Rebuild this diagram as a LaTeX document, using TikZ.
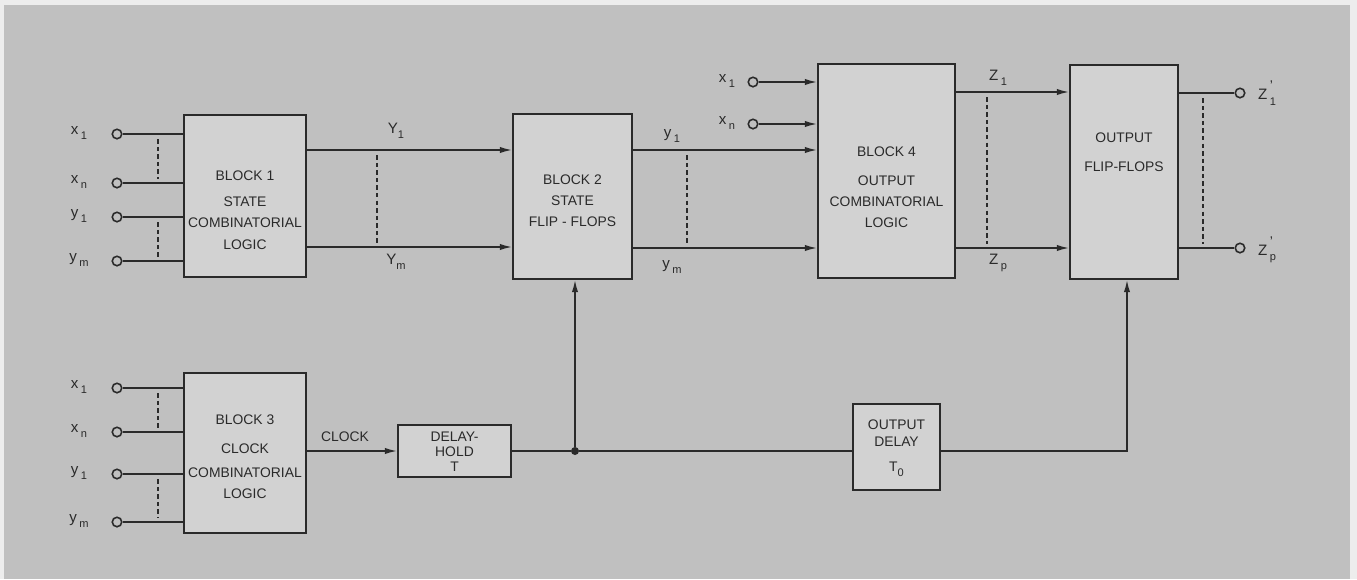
\documentclass[tikz,border=0pt]{standalone}
\usepackage{fontspec}
\setmainfont{Liberation Sans}
\usetikzlibrary{arrows.meta}
\definecolor{bgc}{HTML}{C0C0C0}
\definecolor{edgec}{HTML}{EDEDED}
\definecolor{boxc}{HTML}{D2D2D2}
\definecolor{inkc}{HTML}{2A2A2A}
\newcommand\lsub[1]{\raisebox{-0.7ex}{\fontsize{6.3}{6}\selectfont #1}}
\newcommand\lsubp[1]{\makebox[0pt][l]{\raisebox{1.1ex}{\fontsize{8}{6}\selectfont '}}\lsub{#1}}
\begin{document}
\begin{tikzpicture}[x=0.02cm,y=-0.02cm,
  blk/.style={draw=inkc, line width=1pt, fill=boxc, inner sep=0pt},
  txt/.style={font=\fontsize{7.9}{12}\selectfont, text=inkc, align=center, inner sep=0pt},
  pin/.style={circle, draw=inkc, line width=0.9pt, fill=bgc, minimum size=0.19cm, inner sep=0pt},
  lbl/.style={font=\fontsize{8.6}{9}\selectfont, text=inkc, inner sep=0pt},
  wire/.style={draw=inkc, line width=0.95pt},
  arr/.style={wire, -{Latex[length=7pt,width=3.6pt]}},
  dsh/.style={draw=inkc, line width=0.9pt, dash pattern=on 2.5pt off 1.8pt, shorten <=3pt, shorten >=2pt},
]
\fill[edgec] (0,0) rectangle (1357,579);
\fill[bgc] (4,5) rectangle (1350,579);
\useasboundingbox (0,0) rectangle (1357,579);

% blocks
\node[blk, minimum width=2.44cm, minimum height=3.24cm] (b1) at (245,196) {};
\node[blk, minimum width=2.38cm, minimum height=3.30cm] (b2) at (572.5,196.5) {};
\node[blk, minimum width=2.74cm, minimum height=4.28cm] (b4) at (886.5,171) {};
\node[blk, minimum width=2.16cm, minimum height=4.28cm] (of) at (1124,172) {};
\node[blk, minimum width=2.44cm, minimum height=3.20cm] (b3) at (245,453) {};
\node[blk, minimum width=2.26cm, minimum height=1.04cm] (dh) at (454.5,451) {};
\node[blk, minimum width=1.74cm, minimum height=1.72cm] (od) at (896.5,447) {};

% block texts
\node[txt] (b1t) at (245,210) {BLOCK 1\\[3pt]STATE\\COMBINATORIAL\\LOGIC};
\node[txt] (b2t) at (572.5,201) {BLOCK 2\\STATE\\FLIP - FLOPS};
\node[txt] (b4t) at (886.5,187.5) {BLOCK 4\\[4.5pt]OUTPUT\\COMBINATORIAL\\LOGIC};
\node[txt] (oft) at (1124,152.5) {OUTPUT\\[4.5pt]FLIP-FLOPS};
\node[txt] (b3t) at (245,457) {BLOCK 3\\[4pt]CLOCK\\[2pt]COMBINATORIAL\\LOGIC};
\node[txt, font=\fontsize{7.9}{8.5}\selectfont] (dht) at (454.5,452) {DELAY-\\HOLD\\T};
\node[txt, font=\fontsize{7.9}{10}\selectfont] (odt) at (896.5,448) {OUTPUT\\DELAY\\[4pt]T\lsub{0}};

% input pins block 1
\node[pin] (a1) at (117,134) {};
\node[pin] (a2) at (117,183) {};
\node[pin] (a3) at (117,217) {};
\node[pin] (a4) at (117,261) {};
\node[lbl] (la1) at (79,133) {x\,\lsub{1}};
\node[lbl] (la2) at (79,182) {x\,\lsub{n}};
\node[lbl] (la3) at (79,216) {y\,\lsub{1}};
\node[lbl] (la4) at (79,260) {y\,\lsub{m}};
\foreach \p in {a1,a2,a3,a4} \draw[wire] (\p) -- (\p -| b1.west);

% input pins block 3
\node[pin] (c1) at (117,388) {};
\node[pin] (c2) at (117,432) {};
\node[pin] (c3) at (117,474) {};
\node[pin] (c4) at (117,522) {};
\node[lbl] (lc1) at (79,387) {x\,\lsub{1}};
\node[lbl] (lc2) at (79,431) {x\,\lsub{n}};
\node[lbl] (lc3) at (79,473) {y\,\lsub{1}};
\node[lbl] (lc4) at (79,521) {y\,\lsub{m}};
\foreach \p in {c1,c2,c3,c4} \draw[wire] (\p) -- (\p -| b3.west);

% dashed bundles left
\coordinate (dA) at (158,0);
\draw[dsh] (a1 -| dA) -- (a2 -| dA);
\draw[dsh] (a3 -| dA) -- (a4 -| dA);
\draw[dsh] (c1 -| dA) -- (c2 -| dA);
\draw[dsh] (c3 -| dA) -- (c4 -| dA);

% Y lines
\coordinate (rY1) at (340,150);
\coordinate (rYm) at (340,247);
\draw[arr] (rY1 -| b1.east) -- (rY1 -| b2.west);
\draw[arr] (rYm -| b1.east) -- (rYm -| b2.west);
\coordinate (dY) at (377,0);
\draw[dsh] (rY1 -| dY) -- (rYm -| dY);
\node[lbl] (lY1) at (396,131) {Y\lsub{1}};
\node[lbl] (lYm) at (396,262) {Y\lsub{m}};

% y lines
\coordinate (ry1) at (700,150);
\coordinate (rym) at (700,248);
\draw[arr] (ry1 -| b2.east) -- (ry1 -| b4.west);
\draw[arr] (rym -| b2.east) -- (rym -| b4.west);
\coordinate (dy) at (687,0);
\draw[dsh] (ry1 -| dy) -- (rym -| dy);
\node[lbl] (ly1) at (672,136) {y\,\lsub{1}};
\node[lbl] (lym) at (672,267) {y\,\lsub{m}};

% block 4 direct inputs
\node[pin] (p1) at (753,82) {};
\node[pin] (p2) at (753,124) {};
\node[lbl] (lp1) at (727,81) {x\,\lsub{1}};
\node[lbl] (lp2) at (727,123) {x\,\lsub{n}};
\draw[arr] (p1) -- (p1 -| b4.west);
\draw[arr] (p2) -- (p2 -| b4.west);

% Z lines
\coordinate (rZ1) at (1010,92);
\coordinate (rZp) at (1010,248);
\draw[arr] (rZ1 -| b4.east) -- (rZ1 -| of.west);
\draw[arr] (rZp -| b4.east) -- (rZp -| of.west);
\coordinate (dZ) at (987,0);
\draw[dsh] (rZ1 -| dZ) -- (rZp -| dZ);
\node[lbl] (lZ1) at (998,78) {Z\,\lsub{1}};
\node[lbl] (lZp) at (998,263) {Z\,\lsub{p}};

% outputs
\node[pin] (o1) at (1240,93) {};
\node[pin] (o2) at (1240,248) {};
\draw[wire] (o1 -| of.east) -- (o1);
\draw[wire] (o2 -| of.east) -- (o2);
\coordinate (dO) at (1203,0);
\draw[dsh] (o1 -| dO) -- (o2 -| dO);
\node[lbl] (lo1) at (1267,93) {Z\,\lsubp{1}};
\node[lbl] (lo2) at (1267,250) {Z\,\lsubp{p}};

% clock path
\node[circle, fill=inkc, minimum size=0.16cm, inner sep=0pt] (j) at (575,451) {};
\draw[arr] (b3.east |- dh.west) -- (dh.west);
\node[lbl, font=\fontsize{7.9}{9}\selectfont] (lclk) at (345,437) {CLOCK};
\draw[wire] (dh.east) -- (j);
\draw[wire] (j) -- (j -| od.west);
\draw[arr] (j) -- (j |- b2.south);
\draw[arr] (j -| od.east) -| ([xshift=0.06cm]of.south);
\end{tikzpicture}
\end{document}
